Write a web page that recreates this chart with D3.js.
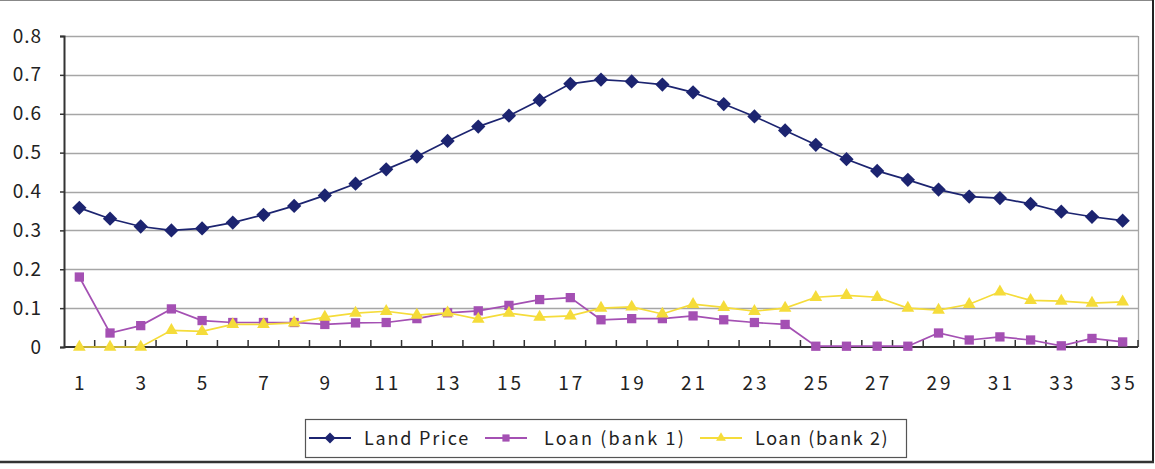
<!DOCTYPE html>
<html>
<head>
<meta charset="utf-8">
<script src="https://cdn.jsdelivr.net/npm/d3@7"></script>
<style>
  body { margin: 0; background: #fff; }
  svg { display: block; font-family: "Noto Sans CJK JP", "Noto Sans", sans-serif; }
</style>
</head>
<body>
<script>
// chart values
const periods = d3.range(1, 36);
const landPrice = [0.358, 0.330, 0.310, 0.300, 0.305, 0.320, 0.340, 0.363, 0.390, 0.420,
  0.457, 0.490, 0.530, 0.567, 0.595, 0.635, 0.677, 0.688, 0.683, 0.675,
  0.655, 0.625, 0.593, 0.557, 0.520, 0.483, 0.453, 0.430, 0.405, 0.387,
  0.383, 0.368, 0.348, 0.335, 0.325];
const loanBank1 = [0.180, 0.036, 0.055, 0.098, 0.068, 0.063, 0.063, 0.063, 0.058, 0.062,
  0.063, 0.073, 0.088, 0.093, 0.107, 0.122, 0.127, 0.070, 0.073, 0.073,
  0.080, 0.070, 0.063, 0.058, 0.002, 0.002, 0.002, 0.002, 0.036, 0.018,
  0.026, 0.018, 0.003, 0.022, 0.013];
const loanBank2 = [0.000, 0.000, 0.000, 0.043, 0.040, 0.058, 0.058, 0.062, 0.077, 0.087,
  0.092, 0.082, 0.088, 0.072, 0.087, 0.077, 0.080, 0.100, 0.103, 0.085,
  0.110, 0.102, 0.092, 0.100, 0.128, 0.133, 0.128, 0.100, 0.095, 0.110,
  0.142, 0.120, 0.118, 0.113, 0.116];
const yTicks = [0, 0.1, 0.2, 0.3, 0.4, 0.5, 0.6, 0.7, 0.8];
const seriesNames = ["Land Price", "Loan (bank 1)", "Loan (bank 2)"];

const W = 1155, H = 469;
const margin = { top: 36, right: 17, bottom: 122, left: 64 },
  width = W - margin.left - margin.right,
  height = H - margin.top - margin.bottom;

const series = [
  { name: seriesNames[0], values: landPrice, color: "#1c2470", symbol: d3.symbolDiamond2, size: 130 },
  { name: seriesNames[1], values: loanBank1, color: "#a450b3", symbol: d3.symbolSquare2, size: 110 },
  { name: seriesNames[2], values: loanBank2, color: "#f5dc3a", symbol: d3.symbolTriangle2, size: 115 }
];

const root = d3.select("body").append("svg")
  .attr("width", W)
  .attr("height", H);

// outer chart frame (cropped on the left)
root.append("line").attr("x1", 0).attr("x2", 1153).attr("y1", 0.5).attr("y2", 0.5)
  .attr("stroke", "#888").attr("stroke-width", 1);
root.append("line").attr("x1", 1153).attr("x2", 1153).attr("y1", 0).attr("y2", 463)
  .attr("stroke", "#222").attr("stroke-width", 2);
root.append("line").attr("x1", 0).attr("x2", 1154).attr("y1", 462).attr("y2", 462)
  .attr("stroke", "#333").attr("stroke-width", 2.5);

const svg = root.append("g")
  .attr("transform", `translate(${margin.left}, ${margin.top})`);

const x = d3.scaleBand().domain(periods).range([0, width]);
const y = d3.scaleLinear().domain([0, 0.8]).range([height, 0]);
const cx = (i) => x(periods[i]) + x.bandwidth() / 2;

// gridlines
svg.append("g")
  .selectAll("line")
  .data(yTicks.filter(d => d > 0))
  .enter().append("line")
    .attr("x1", 0).attr("x2", width)
    .attr("y1", d => Math.round(y(d)) + 0.5).attr("y2", d => Math.round(y(d)) + 0.5)
    .attr("stroke", "#a6a6a6").attr("stroke-width", 1.3);

// plot area right border
svg.append("line")
  .attr("x1", width + 0.5).attr("x2", width + 0.5)
  .attr("y1", y(0.8)).attr("y2", height)
  .attr("stroke", "#a6a6a6").attr("stroke-width", 1.3);

// y axis
const yAxis = svg.append("g")
  .call(d3.axisLeft(y).tickValues(yTicks).tickSize(4).tickPadding(18)
    .tickFormat(d => d === 0 ? "0" : d3.format(".1f")(d)));
yAxis.select(".domain").attr("stroke", "#333").attr("stroke-width", 2);
yAxis.selectAll(".tick line").attr("stroke", "#333").attr("stroke-width", 1.5);
yAxis.selectAll("text").attr("font-size", 19).attr("fill", "#222")
  .style("font-family", "'Noto Sans CJK JP', sans-serif").attr("letter-spacing", 1);

// x axis: ticks between categories, pointing inward
const xAxis = svg.append("g")
  .attr("transform", `translate(0, ${height})`);
xAxis.append("line")
  .attr("x1", 0).attr("x2", width).attr("y1", 0).attr("y2", 0)
  .attr("stroke", "#333").attr("stroke-width", 2);
xAxis.selectAll(".xt")
  .data(periods.slice(1))
  .enter().append("line")
    .attr("class", "xt")
    .attr("x1", d => x(d)).attr("x2", d => x(d))
    .attr("y1", 0).attr("y2", -7)
    .attr("stroke", "#333").attr("stroke-width", 1.5);
xAxis.append("line")
  .attr("x1", width).attr("x2", width).attr("y1", 0).attr("y2", -7)
  .attr("stroke", "#333").attr("stroke-width", 1.5);
xAxis.selectAll(".xl")
  .data(periods.filter(d => d % 2 === 1))
  .enter().append("text")
    .attr("class", "xl")
    .attr("x", d => x(d) + x.bandwidth() / 2 + 1.5)
    .attr("y", 43)
    .attr("text-anchor", "middle")
    .attr("font-size", 19)
    .attr("letter-spacing", 3)
    .attr("fill", "#222")
    .text(d => d);

// lines and markers
const line = d3.line()
  .x((d, i) => cx(i))
  .y(d => y(d));

series.forEach(s => {
  svg.append("path")
    .datum(s.values)
    .attr("fill", "none")
    .attr("stroke", s.color)
    .attr("stroke-width", 1.7)
    .attr("d", line);

  svg.append("g")
    .selectAll("path")
    .data(s.values)
    .enter().append("path")
      .attr("d", d3.symbol().type(s.symbol).size(s.size))
      .attr("transform", (d, i) => `translate(${cx(i)}, ${y(d)})`)
      .attr("fill", s.color);
});

// legend
const legend = root.append("g").attr("transform", "translate(305, 419)");
legend.append("rect")
  .attr("x", 0.5).attr("y", 0.5)
  .attr("width", 601).attr("height", 38)
  .attr("fill", "#fff")
  .attr("stroke", "#555").attr("stroke-width", 1.2);

const legendX = [4, 180, 395];
const legendSpacing = [1.8, 2.2, 1.6];
series.forEach((s, i) => {
  const g = legend.append("g").attr("transform", `translate(${legendX[i]}, 19)`);
  g.append("line")
    .attr("x1", 0).attr("x2", 42).attr("y1", 0).attr("y2", 0)
    .attr("stroke", s.color).attr("stroke-width", 2);
  g.append("path")
    .attr("d", d3.symbol().type(s.symbol).size(s.size * 0.6))
    .attr("transform", "translate(21, 0)")
    .attr("fill", s.color);
  g.append("text")
    .attr("x", i === 1 ? 59 : 55).attr("y", 7)
    .attr("font-size", 18)
    .attr("fill", "#222")
    .attr("letter-spacing", legendSpacing[i])
    .text(s.name);
});
</script>
</body>
</html>
